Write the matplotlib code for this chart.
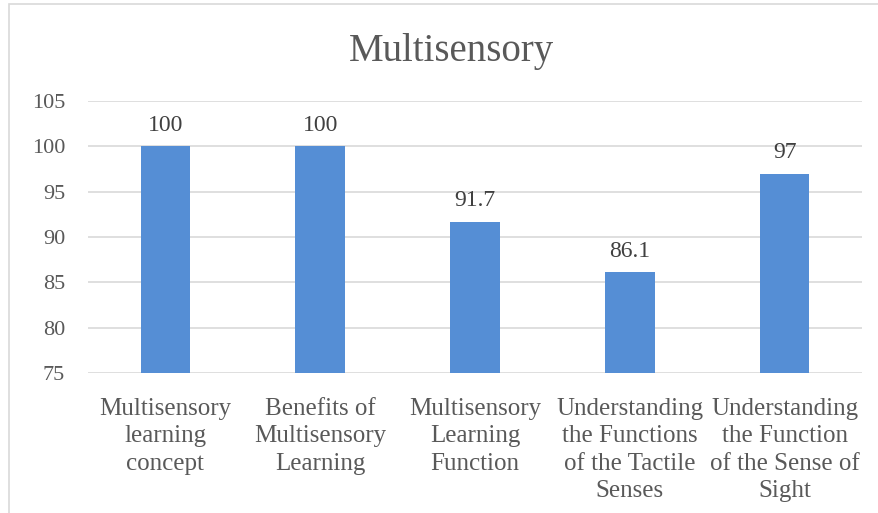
import matplotlib
matplotlib.use('Agg')
import matplotlib.pyplot as plt
from matplotlib.patches import Rectangle

# === Data ===
categories = [
    'Multisensory\nlearning\nconcept',
    'Benefits of\nMultisensory\nLearning',
    'Multisensory\nLearning\nFunction',
    'Understanding\nthe Functions\nof the Tactile\nSenses',
    'Understanding\nthe Function\nof the Sense of\nSight',
]
values = [100, 100, 91.7, 86.1, 97]
value_labels = ['100', '100', '91.7', '86.1', '97']
y_ticks = [75, 80, 85, 90, 95, 100, 105]

BAR_COLOR = '#558ED5'
TEXT_COLOR = '#595959'
GRID_COLOR = '#D9D9D9'

plt.rcParams['font.family'] = ['Liberation Serif', 'DejaVu Serif']

W, H = 879, 513
fig = plt.figure(figsize=(W / 100, H / 100), dpi=100)

# chart frame (only left/top edges are visible in the crop)
fig.patches.append(Rectangle((9 / W, -0.1), 1.2, 1 - 4 / H + 0.1,
                             transform=fig.transFigure, fill=False,
                             edgecolor=GRID_COLOR, linewidth=1.2))

ax = fig.add_axes([88 / W, 1 - 373 / H, (862 - 88) / W, (373 - 101) / H])
x = range(len(values))
ax.bar(x, values, width=0.32, color=BAR_COLOR, zorder=3)
for xi, v, lab in zip(x, values, value_labels):
    ax.text(xi, v + 1.15, lab, ha='center', va='bottom',
            fontsize=17, color='#404040')

ax.set_ylim(75, 105)
ax.set_xlim(-0.5, len(values) - 0.5)
ax.set_yticks(y_ticks)
ax.set_yticklabels([str(t) for t in y_ticks], fontsize=16, color=TEXT_COLOR)
ax.set_xticks(list(x))
ax.set_xticklabels(categories, fontsize=18, color=TEXT_COLOR, linespacing=1.32,
                   va='top')
ax.tick_params(axis='both', length=0)
ax.tick_params(axis='x', pad=18)
ax.tick_params(axis='y', pad=16.5)
ax.yaxis.grid(True, color=GRID_COLOR, linewidth=1.2, zorder=0)
for s in ax.spines.values():
    s.set_visible(False)

fig.text(451 / W, 1 - 52 / H, 'Multisensory', ha='center', va='center',
         fontsize=28, color=TEXT_COLOR)

fig.savefig('out.png', dpi=100)
